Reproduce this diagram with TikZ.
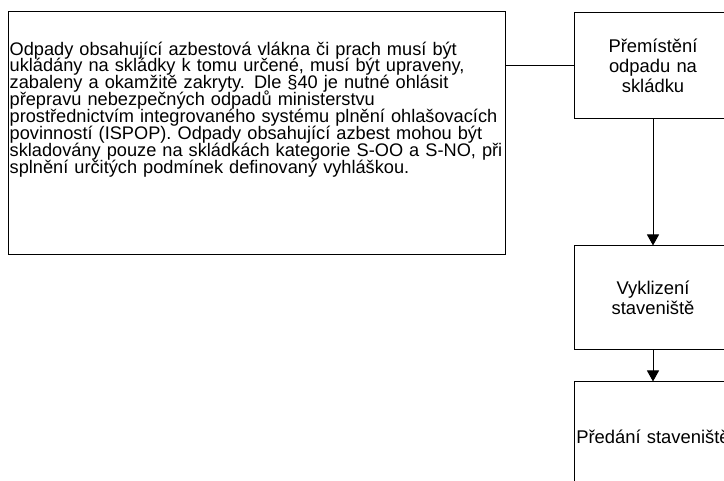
\documentclass[tikz,border=0pt]{standalone}
\usepackage{fontspec}
\setmainfont{Liberation Sans}
\usetikzlibrary{positioning,arrows.meta}
\newcommand{\popisfont}{\fontsize{18.2}{16.9}\selectfont\setlength{\lineskiplimit}{-20pt}}
\tikzset{
>={Triangle[length=11pt,width=12pt]},
  krok/.style={
    rectangle,
    draw=black, line width=1pt,
    minimum width=158pt,
    text width=150pt,
    inner sep=0pt,
    align=center,
    font=\fontsize{18.4}{20}\selectfont},
  line/.style={draw, line width=1pt},
}
\begin{document}
\begin{tikzpicture}[x=1pt,y=1pt]
    \tikzset{
        popis/.style={rectangle, draw=black, line width=1pt, minimum width=497pt, minimum height=243pt},
        popistext/.style={inner sep=0pt, text width=495pt, align=left, font=\popisfont},
        myarrow/.style={draw, line width=1pt, ->},
    }
    \useasboundingbox (0,0) rectangle (724,480);

    \node[popis] (item1) at (256.5,346.5) {};
    \node[popistext, below right=30pt and 2pt of item1.north west] (item1text) {Odpady obsahující azbestová vlákna či prach musí být\\
ukládány na skládky k tomu určené, musí být upraveny,\\
zabaleny a okamžitě zakryty. Dle §40 je nutné ohlásit\\
přepravu nebezpečných odpadů ministerstvu\\
prostřednictvím integrovaného systému plnění ohlašovacích\\
povinností (ISPOP). Odpady obsahující azbest mohou být\\
skladovány pouze na skládkách kategorie S-OO a S-NO, při\\
splnění určitých podmínek definovaný vyhláškou.};

      \node[krok, minimum height=106pt, below right=1pt and 68pt of item1.north east] (item2) {Přemístění\\ odpadu na\\ skládku};
      \node[krok, minimum height=104pt, below=126pt of item2] (item3) {Vyklizení\\ staveniště};
      \node[krok, minimum height=110pt, below=31pt of item3] (item4) {\makebox[150pt]{Předání staveniště}};

    \path[line] (item2.west) -- (item2.west -| item1.east);
    \path[myarrow] (item2.south) -- (item3.north);
    \path[myarrow] (item3.south) -- (item4.north);

    \end{tikzpicture}
\end{document}
